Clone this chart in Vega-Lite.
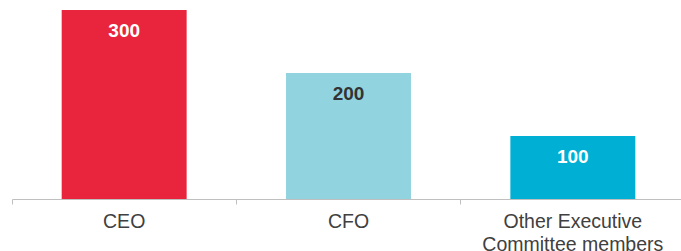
{
  "$schema": "https://vega.github.io/schema/vega-lite/v6.json",
  "autosize": "none",
  "width": 673,
  "height": 189,
  "padding": {"left": 12, "top": 10, "right": 0, "bottom": 52},
  "background": "white",
  "config": {"view": {"stroke": null}, "font": "Liberation Sans"},
  "data": {"values": [
    {"role": "CEO", "value": 300, "color": "#E8253D", "labelColor": "#FFFFFF"},
    {"role": "CFO", "value": 200, "color": "#92D3E0", "labelColor": "#333333"},
    {"role": "Other Executive Committee members", "value": 100, "color": "#00B0D4", "labelColor": "#FFFFFF"}
  ]},
  "encoding": {
    "x": {"field": "role", "type": "nominal", "sort": null,
      "scale": {"paddingInner": 0.443, "paddingOuter": 0.2215},
      "axis": {"title": null, "labelAngle": 0, "domainColor": "#BFBFBF", "tickColor": "#BFBFBF",
        "bandPosition": -0.397, "tickSize": 5, "labelPadding": 8, "labelFontSize": 19.5,
        "labelColor": "#404040", "labelLineHeight": 23.5, "labelLimit": 0, "labelOverlap": false,
        "labelExpr": "datum.value == 'Other Executive Committee members' ? ['Other Executive', 'Committee members'] : datum.value"}},
    "y": {"field": "value", "type": "quantitative", "scale": {"domain": [0, 300]}, "axis": null}
  },
  "layer": [
    {"mark": {"type": "bar"}, "encoding": {"color": {"field": "color", "type": "nominal", "scale": null}}},
    {"mark": {"type": "text", "baseline": "alphabetic", "dy": 27, "fontSize": 19, "fontWeight": "bold"},
     "encoding": {"text": {"field": "value", "type": "quantitative"}, "color": {"field": "labelColor", "type": "nominal", "scale": null}}}
  ]
}
